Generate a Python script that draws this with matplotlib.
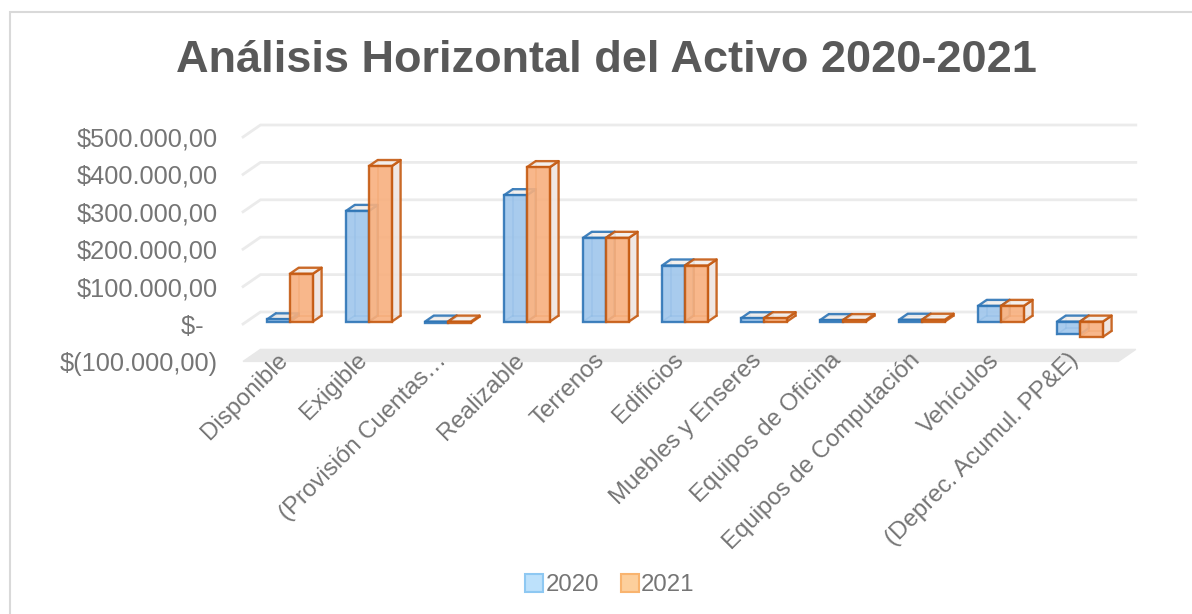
import matplotlib.pyplot as plt
from matplotlib.patches import Patch, Polygon, Rectangle

# data
categories = ["Disponible", "Exigible", "(Provisión Cuentas…", "Realizable", "Terrenos",
              "Edificios", "Muebles y Enseres", "Equipos de Oficina",
              "Equipos de Computación", "Vehículos", "(Deprec. Acumul. PP&E)"]
values_2020 = [6000, 296000, -3000, 338000, 224000, 150000, 9000, 4000, 5000, 42000, -34000]
values_2021 = [128000, 416000, -3000, 413000, 224000, 150000, 9000, 4000, 5000, 42000, -41000]
series_names = ["2020", "2021"]
y_ticks = [-100000, 0, 100000, 200000, 300000, 400000, 500000]

plt.rcParams['font.family'] = ['Liberation Sans', 'DejaVu Sans']

# pixel layout of the fake 3D projection
W_PX, H_PX = 1192, 614
PX_CAT = 79.0            # px per category
PX_VAL = 37.4 / 100000   # px per value unit
X0_PX, Y0_PX = 286.5, 324.0   # px of category 0 / value 0 on the front plane
DX = 17.4 / PX_CAT       # depth shift (full depth) in category units
DY = 12.0 / PX_VAL       # depth shift (full depth) in value units
D0, D1 = 0.2, 0.7        # bar front / back depth
BW = 0.29                # bar width

ax_l, ax_r, ax_t, ax_b = 232, 1192, 95, 370

BLUE_EDGE, BLUE_FACE, BLUE_SIDE = '#2e75b6', '#9fc6ec', '#dfe8f1'
ORNG_EDGE, ORNG_FACE, ORNG_SIDE = '#c55a11', '#f8b07e', '#efe5e0'
TEXT = '#757575'


def pt(x, v, d):
    return (x + d * DX, v + d * DY)


def money(v):
    if v == 0:
        return "$-  "
    s = f"{abs(v):,.2f}".replace(",", "X").replace(".", ",").replace("X", ".")
    return f"$({s})" if v < 0 else f"${s}"


fig = plt.figure(figsize=(W_PX / 100, H_PX / 100), dpi=100)
ax = fig.add_axes([ax_l / W_PX, 1 - ax_b / H_PX, (ax_r - ax_l) / W_PX, (ax_b - ax_t) / H_PX])
ax.set_xlim((ax_l - X0_PX) / PX_CAT, (ax_r - X0_PX) / PX_CAT)
ax.set_ylim((Y0_PX - ax_b) / PX_VAL, (Y0_PX - ax_t) / PX_VAL)
for s in ax.spines.values():
    s.set_visible(False)

# back wall gridlines + floor
xl, xr = -0.55, len(categories) - 1 + 0.53
for v in y_ticks[1:]:
    p0, p1, p2 = pt(xl, v, 0), pt(xl, v, 1), pt(xr, v, 1)
    ax.plot([p0[0], p1[0], p2[0]], [p0[1], p1[1], p2[1]], color='#ebebeb', lw=2, zorder=1)
vmin = y_ticks[0]
floor = Polygon([pt(xl, vmin, 0), pt(xr, vmin, 0), pt(xr, vmin, 1), pt(xl, vmin, 1)],
                closed=True, fc='#e8e8e8', ec='#e8e8e8', lw=1, zorder=1)
ax.add_patch(floor)


def draw_bar(x0, v, edge, face, side, z):
    top, bot = max(v, 0), min(v, 0)
    # hidden back edges (bars are semi-transparent)
    for a, b in [((x0, bot, D1), (x0, top, D1)), ((x0, bot, D1), (x0 + BW, bot, D1)),
                 ((x0, bot, D0), (x0, bot, D1))]:
        pa, pb = pt(*a), pt(*b)
        ax.plot([pa[0], pb[0]], [pa[1], pb[1]], color=edge, lw=1.2, alpha=0.6, zorder=z)
    side_poly = Polygon([pt(x0 + BW, bot, D0), pt(x0 + BW, top, D0), pt(x0 + BW, top, D1),
                         pt(x0 + BW, bot, D1)], closed=True, fc=side, ec=edge, lw=1.7,
                        alpha=0.9, joinstyle='round', zorder=z + 0.1)
    ax.add_patch(side_poly)
    top_poly = Polygon([pt(x0, top, D0), pt(x0 + BW, top, D0), pt(x0 + BW, top, D1),
                        pt(x0, top, D1)], closed=True, fc='#f3efec', ec=edge, lw=1.7,
                       alpha=0.9, joinstyle='round', zorder=z + 0.2)
    ax.add_patch(top_poly)
    fx, fy = pt(x0, 0, D0)
    ax.bar(fx, v, width=BW, bottom=fy, align='edge', color=face, edgecolor=edge,
           linewidth=1.7, alpha=0.9, zorder=z + 0.3)


for i in range(len(categories)):
    draw_bar(i - BW, values_2020[i], BLUE_EDGE, BLUE_FACE, BLUE_SIDE, 2 + i)
    draw_bar(i, values_2021[i], ORNG_EDGE, ORNG_FACE, ORNG_SIDE, 2.5 + i)

# axes text
ax.set_yticks(y_ticks, [money(t) for t in y_ticks])
ax.tick_params(axis='y', length=0, pad=10, labelsize=18.3, labelcolor=TEXT)
ax.set_xticks([i + D0 * DX - 0.165 for i in range(len(categories))], categories)
ax.tick_params(axis='x', length=0, pad=-15, labelsize=17.3, labelcolor=TEXT)
for lab in ax.get_xticklabels():
    lab.set_rotation(45)
    lab.set_ha('right')
    lab.set_va('top')
    lab.set_rotation_mode('anchor')

fig.text(606 / W_PX, 1 - 72 / H_PX, "Análisis Horizontal del Activo 2020-2021",
         ha='center', va='baseline', fontsize=32.5, fontweight='bold', color='#595959')

handles = [Patch(fc='#bde1fb', ec='#8ec8f2', lw=1.5), Patch(fc='#fdcf9c', ec='#f9b46f', lw=1.5)]
fig.legend(handles, series_names, loc='center', bbox_to_anchor=(610 / W_PX, 1 - 585 / H_PX),
           ncol=2, frameon=False, fontsize=17.3, labelcolor=TEXT, handlelength=0.75,
           handleheight=0.75, handletextpad=0.1, columnspacing=0.9)

# chart area border (only left/top visible in the crop)
fig.add_artist(Rectangle((10 / W_PX, -0.1), 1.2, 1.1 - 12 / H_PX, transform=fig.transFigure,
                         fill=False, ec='#d9d9d9', lw=1.5))

fig.savefig("out.png", dpi=100)
